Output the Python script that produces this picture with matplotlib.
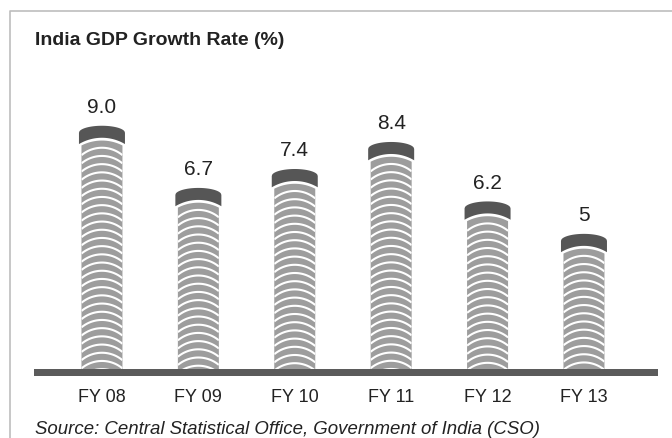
import numpy as np
import matplotlib.pyplot as plt
from matplotlib.patches import Polygon, Rectangle
from matplotlib.lines import Line2D

# DATA

years = ['FY 08', 'FY 09', 'FY 10', 'FY 11', 'FY 12', 'FY 13']
growth = [9.0, 6.7, 7.4, 8.4, 6.2, 5.0]
value_labels = ['9.0', '6.7', '7.4', '8.4', '6.2', '5']

CAP = '#565656'
BODY = '#9d9d9d'
BASE = '#5b5b5b'
TEXT = '#222222'
BORDER = '#bdbdbd'

plt.rcParams['font.family'] = ['Liberation Sans', 'DejaVu Sans']

W, H = 672, 439
fig = plt.figure(figsize=(W / 100, H / 100), dpi=100)
ax = fig.add_axes([34 / W, (H - 370) / H, 624 / W, 300 / H])
ax.set_xlim(-0.705, 5.768)
ax.set_ylim(0, 11.1)
ax.axis('off')

# pixels per data unit, so the bar shapes can be described in pixels
p0, p1 = ax.transData.transform([(0, 0), (1, 1)])
sx, sy = p1 - p0


def circle_drop(x, r):
    return r - np.sqrt(r ** 2 - x ** 2)


# BARS (coil look: dark cap on top, gray body with white arcs)

cap_hw = 23
body_hw = 20.5
xs_cap = np.linspace(-cap_hw, cap_hw, 100)
xs_body = np.linspace(-body_hw, body_hw, 100)

for i, v in enumerate(growth):
    top = v * sy  # cap top in pixels above the baseline

    # cap
    upper = -7 + 7 * np.sqrt(np.clip(1 - (xs_cap / cap_hw) ** 2, 0, 1))
    lower = -12 - circle_drop(xs_cap, 45)
    px = np.concatenate([xs_cap, xs_cap[::-1]])
    py = np.concatenate([upper, lower[::-1]]) + top
    ax.add_patch(Polygon(np.column_stack([i + px / sx, py / sy]),
                         closed=True, fc=CAP, ec='none', zorder=3))

    # body
    body_top = -14.8 - circle_drop(xs_body, 45) + top
    bx = np.concatenate([xs_body, [body_hw, -body_hw]])
    by = np.concatenate([body_top, [0, 0]])
    body = Polygon(np.column_stack([i + bx / sx, by / sy]),
                   closed=True, fc=BODY, ec='none', zorder=2)
    ax.add_patch(body)

    # white arcs
    y0 = top - 22
    while y0 > -10:
        ay = y0 - circle_drop(xs_body, 32)
        ln, = ax.plot(i + xs_body / sx, ay / sy, color='white', lw=1.5,
                      zorder=2.5, solid_capstyle='butt')
        ln.set_clip_path(body)
        y0 -= 8.2

    ax.annotate(value_labels[i], (i, v), xytext=(0, 10), textcoords='offset points',
                ha='center', va='baseline', fontsize=15, color=TEXT)

# baseline
ax.add_patch(Rectangle((0, -7 / sy), 1, 7 / sy, transform=ax.get_yaxis_transform(),
                       fc=BASE, ec='none', clip_on=False, zorder=4))

for i, yr in enumerate(years):
    ax.annotate(yr, (i, 0), xytext=(0, -23.2), textcoords='offset points',
                ha='center', va='baseline', fontsize=13, color=TEXT,
                annotation_clip=False)

# TEXTS AND FRAME

fig.text(35 / W, (H - 45) / H, 'India GDP Growth Rate (%)', fontsize=14,
         fontweight='bold', color=TEXT, va='baseline')
fig.text(35 / W, (H - 434) / H,
         'Source: Central Statistical Office, Government of India (CSO)',
         fontsize=13.4, style='italic', color=TEXT, va='baseline')

fig.add_artist(Line2D([9.5 / W, 9.5 / W, 1], [0, (H - 12) / H, (H - 12) / H],
                      transform=fig.transFigure, color=BORDER, lw=1.2))

fig.savefig('out.png', dpi=100, facecolor='white')
